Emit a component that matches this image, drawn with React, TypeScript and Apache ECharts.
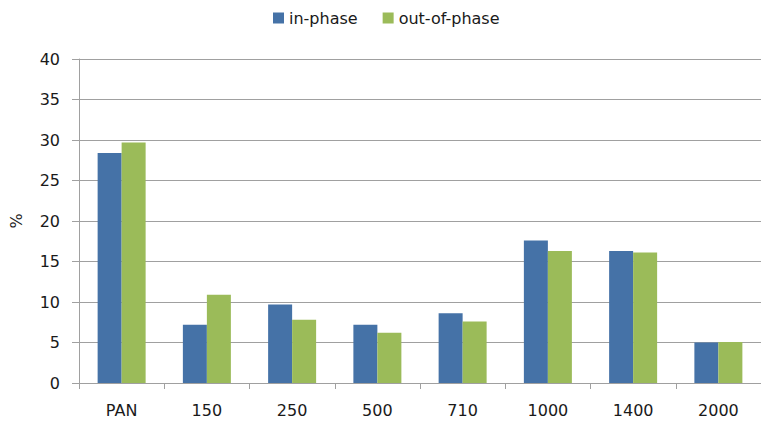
import React, { useEffect, useRef } from "react";
import * as echarts from "echarts";

const categories = ["PAN", "150", "250", "500", "710", "1000", "1400", "2000"];
const inPhase = [28.4, 7.2, 9.7, 7.2, 8.6, 17.6, 16.3, 5.0];
const outOfPhase = [29.7, 10.9, 7.8, 6.2, 7.6, 16.3, 16.1, 5.05];
const seriesNames = ["in-phase", "out-of-phase"];
const yTicks = { min: 0, max: 40, interval: 5 };

const FONT = "'DejaVu Sans', Verdana, sans-serif";
const TEXT = "#1a1a1a";
const GRID = "#a0a0a0";

export default function App() {
  const ref = useRef<HTMLDivElement>(null);
  useEffect(() => {
    document.body.style.margin = "0";
    const chart = echarts.init(ref.current!, null, { renderer: "svg" });
    chart.setOption({
      animation: false,
      backgroundColor: "#ffffff",
      textStyle: { fontFamily: FONT },
      legend: {
        left: 268,
        top: 5,
        itemWidth: 11,
        itemHeight: 11,
        itemGap: 25,
        icon: "rect",
        textStyle: { fontFamily: FONT, fontSize: 16, color: TEXT },
        data: seriesNames,
      },
      grid: { left: 77, top: 59, width: 690, bottom: 40, containLabel: false },
      xAxis: {
        type: "category",
        data: categories,
        axisLine: { lineStyle: { color: GRID, width: 1 } },
        axisTick: { show: true, length: 6, lineStyle: { color: GRID }, alignWithLabel: false },
        axisLabel: { fontFamily: FONT, fontSize: 16, color: TEXT, margin: 19 },
        splitLine: { show: false },
      },
      yAxis: {
        type: "value",
        min: yTicks.min,
        max: yTicks.max,
        interval: yTicks.interval,
        name: "%",
        nameLocation: "middle",
        nameGap: 55,
        nameRotate: 90,
        nameTextStyle: { fontFamily: FONT, fontSize: 16, color: TEXT },
        axisLine: { show: true, lineStyle: { color: GRID, width: 1 } },
        axisTick: { show: true, length: 7, lineStyle: { color: GRID } },
        axisLabel: { fontFamily: FONT, fontSize: 16, color: TEXT, margin: 19 },
        splitLine: { show: true, lineStyle: { color: GRID, width: 1 } },
      },
      series: [
        {
          name: seriesNames[0],
          type: "bar",
          data: inPhase,
          barWidth: 24,
          barGap: "0%",
          itemStyle: { color: "#4572a7" },
        },
        {
          name: seriesNames[1],
          type: "bar",
          data: outOfPhase,
          barWidth: 24,
          barGap: "0%",
          itemStyle: { color: "#9bbb59" },
        },
      ],
    });
    return () => chart.dispose();
  }, []);
  return <div ref={ref} style={{ width: 761, height: 423 }} />;
}
